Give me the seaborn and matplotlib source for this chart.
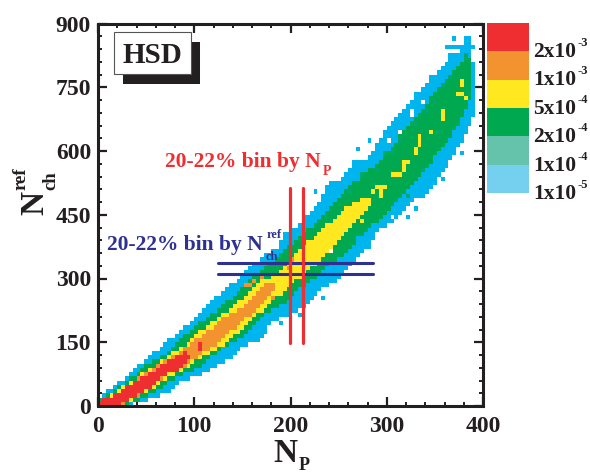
# %%
from matplotlib import pyplot as plt
from matplotlib.colors import ListedColormap
from matplotlib.patches import Rectangle
from matplotlib.ticker import MultipleLocator
import seaborn as sns
import numpy as np
import pandas as pd

# band edges in N_P for each N_ch row (row i covers N_ch 10*i .. 10*i+10)
blue_left = [0,0,4,8,16,20,28,32,36,40,48,52,56,64,68,72,80,84,88,96,100,104,108,112,116,120,128,132,136,144,
             148,152,156,160,168,172,180,188,188,192,192,200,208,212,212,220,224,228,232,232,236,236,240,252,256,260,264,264,280,284,
             288,288,292,296,296,300,304,308,312,316,320,324,328,328,336,340,344,344,352,356,360,364,364,376,360,380,380]
blue_right = [36,52,64,76,80,84,96,108,116,124,132,140,144,148,156,168,172,176,176,180,188,200,208,216,220,224,228,232,240,248,
              252,256,260,264,268,272,276,280,284,288,288,292,300,308,312,316,320,324,328,340,344,348,348,352,356,360,364,364,368,372,
              372,376,380,380,384,384,388,388,392,392,392,392,392,392,392,392,392,392,392,392,392,388,388,388,392,388,388]
green_left = [0,0,8,16,20,28,32,40,44,48,56,64,72,76,80,84,88,96,100,104,112,116,124,128,132,140,144,148,152,156,
              160,168,172,176,184,188,192,196,204,208,212,216,224,228,232,236,240,244,248,252,256,260,264,272,276,280,288,292,296,300,
              304,308,312,312,316,320,324,328,332,336,340,344,344,348,352,356,360,364,368,372,376,380]
green_right = [32,44,52,60,68,72,80,88,100,108,112,116,124,128,136,144,152,156,160,164,168,172,180,188,196,200,204,208,216,220,
               228,232,236,240,248,256,260,264,268,268,276,280,284,292,296,300,304,308,312,316,320,324,328,332,336,340,344,348,348,352,
               356,360,364,368,368,372,376,376,380,380,384,384,388,388,388,388,388,388,388,388,388,388]
yellow_left = [0,4,12,20,24,32,40,44,52,60,64,72,76,84,92,96,100,104,112,116,124,128,136,140,144,152,156,160,164,168,
               180,188,192,196,200,204,208,212,216,224,228,232,236,244,248,252,256,264,272]
yellow_right = [28,36,44,52,60,64,72,80,88,96,100,108,116,124,132,136,140,148,152,156,160,164,172,176,180,184,192,196,200,204,
                212,216,220,228,232,236,240,244,248,252,256,260,264,268,272,276,280,284,284]
orange_left = [0,4,16,24,28,36,40,48,56,60,68,76,84,88,96,100,108,112,120,124,128,136,144,152,156,160,164,168,172]
orange_right = [28,32,44,48,56,60,68,72,84,92,96,104,108,116,124,128,132,136,144,148,152,160,164,168,172,176,180,184,184]
red_left = [0,4,16,24,28,36,44,52,60,64,72,80,88]
red_right = [24,32,40,48,56,60,64,72,84,88,92,96,92]

# single cells that stick out of the bands (N_P, N_ch lower bin edges)
spot_blue_np = [268,280,292,368,376,356,344,348,328,320,308,280,224,260,164,188,232,208,236,344]
spot_blue_nch = [600,620,620,860,590,530,520,520,460,440,440,370,500,550,150,190,250,210,500,770]
spot_teal_np = [312,304,288,260,336,320,348,356,364,380,384,272,296,328,340,352]
spot_teal_nch = [620,590,550,500,550,490,710,750,770,820,730,540,590,660,690,640]
spot_yellow_np = [288,292,296,292,292,284,304,308,312,316,316,316,320,332,332,328,328,332,344,356,356,356,372,376,380,376,376,272,264]
spot_yellow_nch = [510,510,510,500,490,500,540,540,540,550,560,570,570,610,620,600,590,630,640,670,680,690,730,730,720,750,760,430,440]
spot_orange_np = [172,176,180,160,156,196,152,168,200,212]
spot_orange_nch = [270,260,250,290,280,320,280,300,340,330]
spot_red_np = [104,104]
spot_red_nch = [130,140]
hole_np = [324,324,336,312,300,276,240,304,288]
hole_nch = [680,690,710,640,620,590,360,440,400]

level_colors = ['#00B4EE', '#00A86E', '#00A94F', '#FFE820', '#F3932F', '#EE2E30']
legend_colors = ['#EE2E30', '#F3932F', '#FFE820', '#00A94F', '#65C3AB', '#75CFEF']
legend_labels = [('2x10', '-3'), ('1x10', '-3'), ('5x10', '-4'), ('2x10', '-4'), ('1x10', '-4'), ('1x10', '-5')]
ink = '#231F20'

# %%
grid = np.zeros((100, 90))


def fill_band(left, right, level):
    for row, (a, b) in enumerate(zip(left, right)):
        grid[a // 4:b // 4, row] = level


def fill_spots(xs, ys, level):
    for x, y in zip(xs, ys):
        grid[x // 4, y // 10] = level


fill_band(blue_left, blue_right, 1)
fill_band(green_left, green_right, 3)
fill_spots(spot_blue_np, spot_blue_nch, 1)
fill_spots(spot_teal_np, spot_teal_nch, 2)
fill_band(yellow_left, yellow_right, 4)
fill_spots(spot_yellow_np, spot_yellow_nch, 4)
fill_band(orange_left, orange_right, 5)
fill_spots(spot_orange_np, spot_orange_nch, 5)
fill_band(red_left, red_right, 6)
fill_spots(spot_red_np, spot_red_nch, 6)
fill_spots(hole_np, hole_nch, 0)

ix, iy = np.nonzero(grid)
cells = pd.DataFrame({'np': ix * 4 + 2, 'nch': iy * 10 + 5, 'level': grid[ix, iy]})

# %%
sns.set_theme(style='white')
plt.rcParams['font.family'] = ['Liberation Serif', 'DejaVu Serif']
plt.rcParams['font.weight'] = 'bold'

W, H = 590, 475
fig = plt.figure(figsize=(W / 100, H / 100), dpi=100)
ax = fig.add_axes([98 / W, 1 - 406 / H, 385 / W, 382.5 / H])


def label(px, py, s, size, color=ink, rotation=0, ha='left', va='baseline'):
    fig.text(px / W, 1 - py / H, s, fontsize=size, color=color, rotation=rotation,
             ha=ha, va=va, fontweight='bold', rotation_mode='anchor')


sns.histplot(cells, x='np', y='nch', weights='level', binwidth=(4, 10), binrange=((0, 400), (0, 900)),
             thresh=0, cmap=ListedColormap(level_colors), ax=ax)
ax.collections[0].set_clim(0.5, 6.5)
ax.collections[0].set_linewidth(0)

ax.set_xlim(0, 400)
ax.set_ylim(0, 900)
ax.set_xlabel('')
ax.set_ylabel('')
ax.xaxis.set_major_locator(MultipleLocator(100))
ax.xaxis.set_minor_locator(MultipleLocator(20))
ax.yaxis.set_major_locator(MultipleLocator(150))
ax.yaxis.set_minor_locator(MultipleLocator(30))
ax.tick_params(which='major', direction='in', length=6.5, width=1.6, top=True, right=True, bottom=True, left=True,
               labelsize=17, labelcolor=ink, color=ink, pad=5)
ax.tick_params(axis='x', which='major', pad=7)
ax.tick_params(which='minor', direction='in', length=3.2, width=1.4, top=True, right=True, bottom=True, left=True, color=ink)
for spine in ax.spines.values():
    spine.set_linewidth(2.2)
    spine.set_color(ink)
    spine.set_visible(True)

# centrality bin lines
for y in [336, 311]:
    ax.plot([125, 286], [y, y], color='#2E3192', lw=2.2, solid_capstyle='round', zorder=4)
for x in [199.5, 213]:
    ax.plot([x, x], [149, 512], color='#EE2E30', lw=2.3, solid_capstyle='round', zorder=5)

# HSD box with hard shadow
fig.add_artist(Rectangle((123 / W, 1 - 84 / H), 77 / W, 42 / H, transform=fig.transFigure, facecolor=ink, edgecolor='none'))
fig.add_artist(Rectangle((114 / W, 1 - 74 / H), 77 / W, 42 / H, transform=fig.transFigure, facecolor='white', edgecolor='#555555', lw=0.8))
label(152.5, 63, 'HSD', 21, ha='center')

# annotations
label(165, 167, '20-22% bin by N', 15.5, color='#EE2E30')
label(323, 175, 'P', 10, color='#EE2E30')
label(107, 250, '20-22% bin by N', 15.5, color='#2E3192')
label(266, 260, 'ch', 9, color='#2E3192')
label(267, 238, 'ref', 9, color='#2E3192')

# axis titles
label(273, 462, 'N', 24)
label(299, 470, 'P', 13)
label(43, 215, 'N', 24, rotation=90)
label(55, 190, 'ch', 13.5, rotation=90)
label(25, 190, 'ref', 13.5, rotation=90)

# colour key
cax = fig.add_axes([487 / W, 1 - 193 / H, 42 / W, 170 / H])
sns.heatmap(np.arange(6).reshape(6, 1), cmap=ListedColormap(legend_colors), cbar=False,
            xticklabels=False, yticklabels=False, ax=cax)
for i, (base, power) in enumerate(legend_labels):
    y = 57 + i * 28.4
    label(533, y, base, 15.5)
    label(577, y - 11, power, 9)

fig.savefig('out.png', dpi=100)
